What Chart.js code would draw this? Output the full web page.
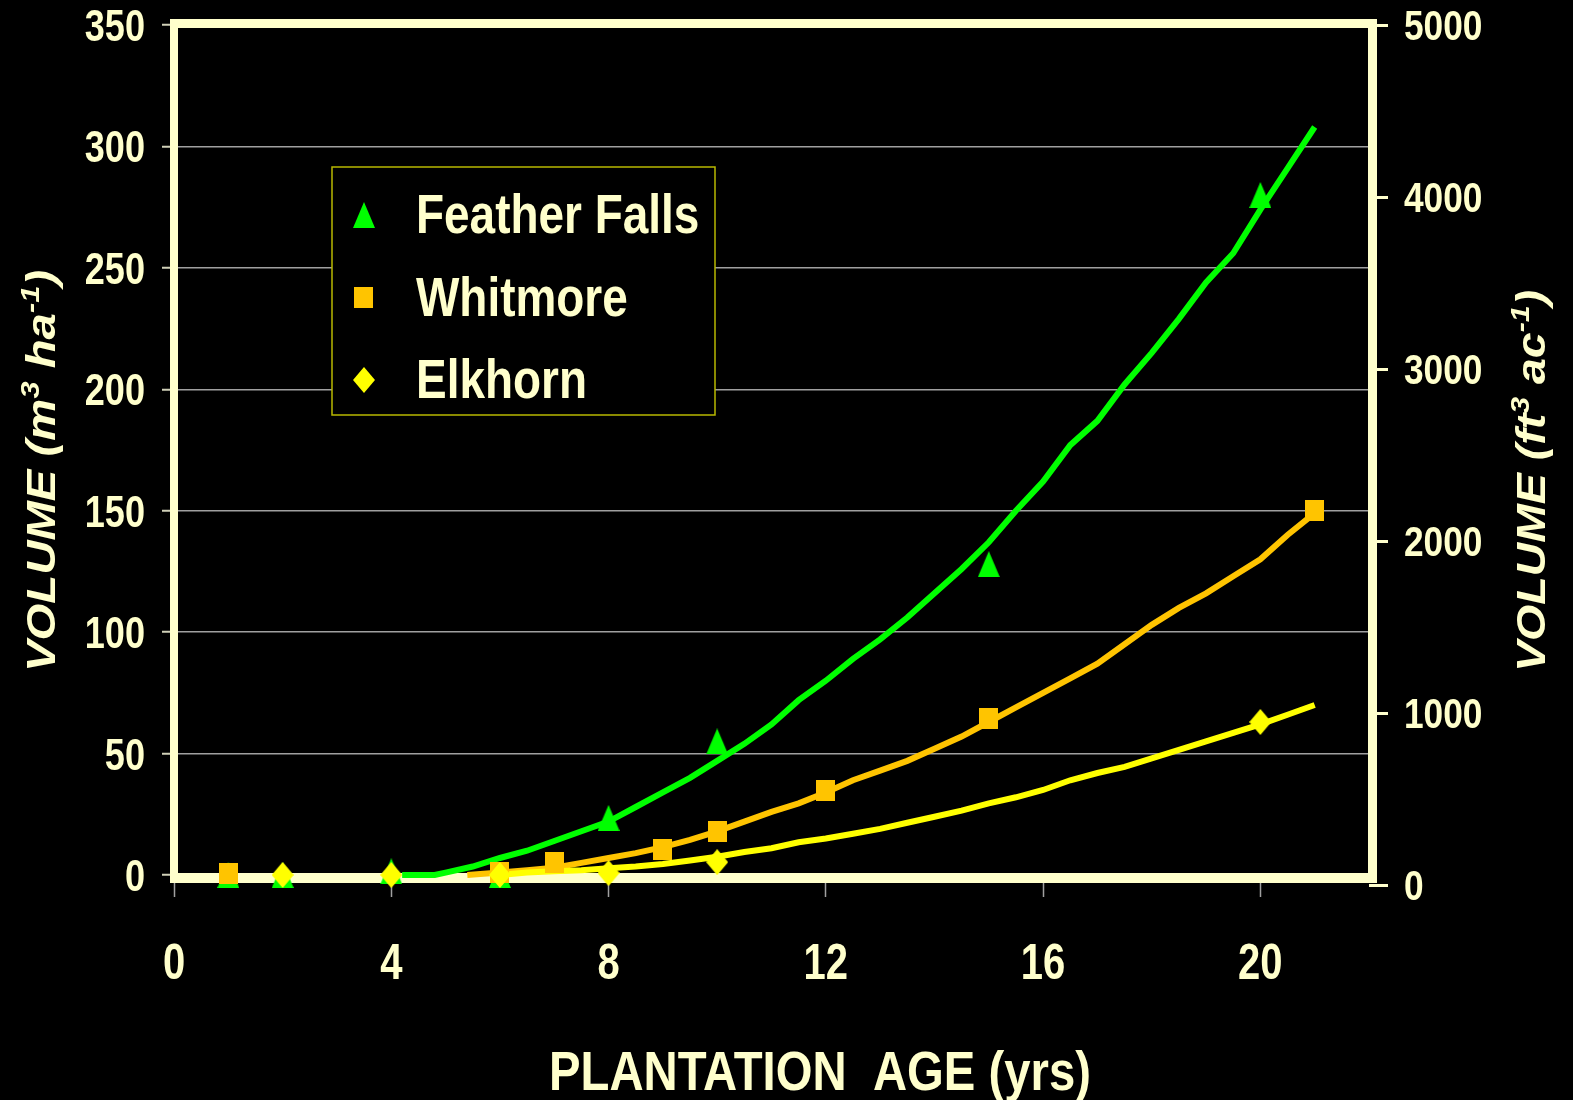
<!DOCTYPE html>
<html>
<head>
<meta charset="utf-8">
<title>Plantation volume</title>
<script src="https://cdn.jsdelivr.net/npm/chart.js@4.4.0/dist/chart.umd.min.js"></script>
<style>
  html, body { margin: 0; padding: 0; background: #000; }
  #wrap { width: 1573px; height: 1100px; position: relative; }
</style>
</head>
<body>
<div id="wrap"><canvas id="volumeChart"></canvas></div>
<script>
// measured plots (markers)
const ffAge = [1, 2, 4, 6, 8, 10, 15, 20];
const ffVol = [0, 0, 1.5, 0, 23.5, 55, 128, 280];
const whAge = [1, 6, 7, 9, 10, 12, 15, 21];
const whVol = [0.5, 1, 5, 10.5, 18, 35, 64.5, 150];
const elAge = [2, 4, 6, 8, 10, 20];
const elVol = [0, 0, 0, 0.8, 5.3, 63];

// fitted curves
const ffLineAge = [4.2, 4.8, 5, 5.5, 6, 6.5, 7, 7.5, 8, 8.5, 9, 9.5, 10, 10.5, 11, 11.5, 12, 12.5, 13, 13.5, 14, 14.5, 15, 15.5, 16, 16.5, 17, 17.5, 18, 18.5, 19, 19.5, 20, 20.5, 21];
const ffLineVol = [0, 0, 1, 3.5, 7, 10, 14, 18, 22, 28, 34, 40, 47, 54, 62, 72, 80, 89, 97, 106, 116, 126, 137, 150, 162, 177, 187, 202, 215, 229, 244, 256, 274, 291, 308];
const whLineAge = [5.4, 6, 6.5, 7, 7.5, 8, 8.5, 9, 9.5, 10, 10.5, 11, 11.5, 12, 12.5, 13, 13.5, 14, 14.5, 15, 15.5, 16, 16.5, 17, 17.5, 18, 18.5, 19, 19.5, 20, 20.5, 21];
const whLineVol = [0, 1, 2, 3, 5, 7, 9, 11.5, 14.5, 18, 22, 26, 29.5, 34, 39, 43, 47, 52, 57, 63, 69, 75, 81, 87, 95, 103, 110, 116, 123, 130, 140, 149];
const elLineAge = [6, 6.5, 7, 7.5, 8, 8.5, 9, 9.5, 10, 10.5, 11, 11.5, 12, 12.5, 13, 13.5, 14, 14.5, 15, 15.5, 16, 16.5, 17, 17.5, 18, 18.5, 19, 19.5, 20, 20.5, 21];
const elLineVol = [0, 1, 1.5, 2, 2.8, 3.5, 4.5, 6, 7.5, 9.5, 11, 13.5, 15, 17, 19, 21.5, 24, 26.5, 29.5, 32, 35, 39, 42, 44.5, 48, 51.5, 55, 58.5, 62, 66, 70];

const xTicks = [0, 4, 8, 12, 16, 20];
const yTicks = [0, 50, 100, 150, 200, 250, 300, 350];
const y2Ticks = [0, 1000, 2000, 3000, 4000, 5000];

const CREAM = '#FFFFCC';
const GREEN = '#00FF00';
const ORANGE = '#FFC400';
const YELLOW = '#FFFF00';
const FONT = '"Liberation Sans", Arial, sans-serif';

function toXY(xs, ys) {
  return xs.map((x, i) => ({ x: x, y: ys[i] }));
}

// marker images, slightly taller than wide like the original
function marker(kind, w, h, color) {
  const c = document.createElement('canvas');
  c.width = w; c.height = h;
  const g = c.getContext('2d');
  g.fillStyle = color;
  g.beginPath();
  if (kind === 'tri') {
    g.moveTo(w / 2, 0); g.lineTo(w, h); g.lineTo(0, h);
  } else if (kind === 'dia') {
    g.moveTo(w / 2, 0); g.lineTo(w, h / 2); g.lineTo(w / 2, h); g.lineTo(0, h / 2);
  } else {
    g.rect(0, 0, w, h);
  }
  g.closePath();
  g.fill();
  return c;
}
const triImg = marker('tri', 22, 26, GREEN);
const sqImg = marker('sq', 19, 21, ORANGE);
const diaImg = marker('dia', 22, 26, YELLOW);

// the original text is squeezed horizontally, so draw it with a scale
function narrowText(ctx, text, x, y, size, sx, align) {
  ctx.save();
  ctx.font = 'bold ' + size + 'px ' + FONT;
  ctx.fillStyle = CREAM;
  ctx.textAlign = align || 'left';
  ctx.textBaseline = 'alphabetic';
  ctx.translate(x, y);
  ctx.scale(sx, 1);
  ctx.fillText(text, 0, 0);
  ctx.restore();
}

function drawRich(ctx, parts, cx, cy, targetLen) {
  const base = 40, sup = 26;
  let total = 0;
  parts.forEach(p => {
    ctx.font = 'italic bold ' + (p.sup ? sup : base) + 'px ' + FONT;
    p.w = ctx.measureText(p.t).width;
    total += p.w;
  });
  ctx.save();
  ctx.translate(cx, cy);
  ctx.rotate(-Math.PI / 2);
  ctx.scale(targetLen / total, 1);
  ctx.fillStyle = CREAM;
  ctx.textBaseline = 'alphabetic';
  let x = -total / 2;
  parts.forEach(p => {
    ctx.font = 'italic bold ' + (p.sup ? sup : base) + 'px ' + FONT;
    ctx.fillText(p.t, x, p.sup ? 14 - 16 : 14);
    x += p.w;
  });
  ctx.restore();
}

const decorations = {
  id: 'decorations',
  beforeDatasetsDraw(chart) {
    const { ctx, chartArea: a } = chart;
    ctx.save();
    ctx.fillStyle = CREAM;
    ctx.fillRect(a.left - 4, a.top - 6, 8, a.bottom - a.top + 14);
    ctx.fillRect(a.left - 4, a.top - 6, a.right - a.left + 12, 9);
    ctx.fillRect(a.right - 1, a.top - 6, 9, a.bottom - a.top + 14);
    ctx.fillRect(a.left - 4, a.bottom - 2, a.right - a.left + 12, 10);
    ctx.restore();
  },
  afterDatasetsDraw(chart) {
    const ctx = chart.ctx;
    ctx.save();
    // legend box
    ctx.fillStyle = '#000';
    ctx.fillRect(332, 167, 383, 248);
    ctx.strokeStyle = '#B8B800';
    ctx.lineWidth = 1.5;
    ctx.strokeRect(332, 167, 383, 248);
    ctx.drawImage(triImg, 364 - 11, 215 - 13);
    ctx.drawImage(sqImg, 363 - 9.5, 297 - 10.5);
    ctx.drawImage(diaImg, 364 - 11, 380 - 13);
    ctx.restore();
    const labels = chart.data.datasets.filter(d => !d.showLine).map(d => d.label).reverse();
    const baselines = [233, 316, 398];
    labels.forEach((t, i) => narrowText(ctx, t, 416, baselines[i], 56, 0.82));
  },
  afterDraw(chart) {
    const ctx = chart.ctx;
    const { x, y, y2 } = chart.scales;
    // tick labels
    x.ticks.forEach(t => narrowText(ctx, String(t.value), x.getPixelForValue(t.value), 979, 50, 0.8, 'center'));
    y.ticks.forEach(t => narrowText(ctx, String(t.value), 145, y.getPixelForValue(t.value) + 16, 44, 0.82, 'right'));
    y2.ticks.forEach(t => narrowText(ctx, String(t.value), 1404, y2.getPixelForValue(t.value) + 15, 43, 0.82, 'left'));
    // axis titles
    ctx.save();
    ctx.font = 'bold 55px ' + FONT;
    const w = ctx.measureText('PLANTATION  AGE (yrs)').width;
    ctx.restore();
    narrowText(ctx, 'PLANTATION  AGE (yrs)', 820, 1090, 55, 542 / w, 'center');
    drawRich(ctx, [{ t: 'VOLUME (m' }, { t: '3', sup: true }, { t: ' ha' }, { t: '-1', sup: true }, { t: ')' }], 41, 471, 402);
    drawRich(ctx, [{ t: 'VOLUME (ft' }, { t: '3', sup: true }, { t: ' ac' }, { t: '-1', sup: true }, { t: ')' }], 1531, 481, 382);
  }
};

const lineSet = (label, xs, ys, color, order) => ({
  label: label, data: toXY(xs, ys), showLine: true, borderColor: color,
  borderWidth: 6, pointRadius: 0, fill: false, clip: false, order: order
});
const markSet = (label, xs, ys, img, order) => ({
  label: label, data: toXY(xs, ys), showLine: false, pointStyle: img,
  pointRadius: 12, clip: false, order: order
});

const ctx = document.getElementById('volumeChart').getContext('2d');
const volumeChart = new Chart(ctx, {
  type: 'scatter',
  data: {
    datasets: [
      markSet('Elkhorn', elAge, elVol, diaImg, 1),
      markSet('Whitmore', whAge, whVol, sqImg, 2),
      markSet('Feather Falls', ffAge, ffVol, triImg, 3),
      lineSet('Elkhorn fit', elLineAge, elLineVol, YELLOW, 4),
      lineSet('Whitmore fit', whLineAge, whLineVol, ORANGE, 5),
      lineSet('Feather Falls fit', ffLineAge, ffLineVol, GREEN, 6)
    ]
  },
  options: {
    responsive: true,
    maintainAspectRatio: false,
    animation: false,
    layout: { padding: { top: 25, left: 0, right: 0, bottom: 0 } },
    plugins: { legend: { display: false }, tooltip: { enabled: false } },
    scales: {
      x: {
        type: 'linear', min: 0, max: 22,
        afterBuildTicks: s => { s.ticks = xTicks.map(v => ({ value: v })); },
        afterFit: s => { s.height = 225; },
        border: { display: false },
        grid: { drawOnChartArea: false, drawTicks: true, tickLength: 22, tickColor: '#A0A0A0', tickWidth: 1.5 },
        ticks: { display: false }
      },
      y: {
        type: 'linear', position: 'left', min: 0, max: 350,
        afterBuildTicks: s => { s.ticks = yTicks.map(v => ({ value: v })); },
        afterFit: s => { s.width = 174; },
        border: { display: false },
        grid: { color: '#A0A0A0', lineWidth: 1.5, tickLength: 12, tickColor: '#D0D0B8', tickWidth: 2 },
        ticks: { display: false }
      },
      y2: {
        type: 'linear', position: 'right', min: 60, max: 5000,
        afterBuildTicks: s => { s.ticks = y2Ticks.map(v => ({ value: v })); },
        afterFit: s => { s.width = 204; },
        border: { display: false },
        grid: { drawOnChartArea: false, tickLength: 19, tickColor: CREAM, tickWidth: 3 },
        ticks: { display: false }
      }
    }
  },
  plugins: [decorations]
});
</script>
</body>
</html>
